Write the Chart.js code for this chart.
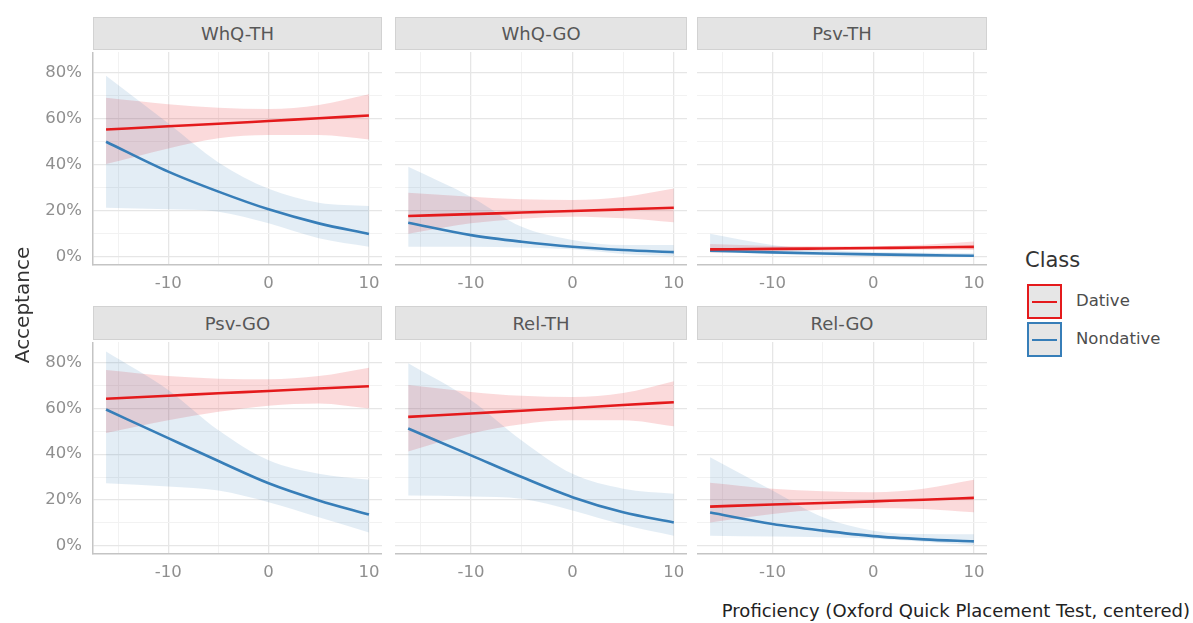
<!DOCTYPE html>
<html>
<head>
<meta charset="utf-8">
<script src="https://cdn.jsdelivr.net/npm/chart.js@4"></script>
<style>
  body { margin: 0; background: #fff; font-family: "DejaVu Sans", sans-serif; }
  #wrap { position: relative; width: 1193px; height: 623px; overflow: hidden; }
  canvas { position: absolute; }
  .strip { position: absolute; background: #e4e4e4; border: 1px solid #d2d2d2; box-sizing: border-box;
           color: #575757; font-size: 18px; display: flex; align-items: center; justify-content: center; }
  .txt { position: absolute; white-space: nowrap; }
  .key { position: absolute; width: 35px; height: 35px; box-sizing: border-box; background: #e6e6e6; }
  .key span { position: absolute; left: 3px; right: 3px; top: 15px; height: 2px; }
</style>
</head>
<body>
<div id="wrap"></div>
<script>
// x values where the fitted curves were read
var proficiency = [-16.2, -10, -5, 0, 5, 10];
var panels = ['WhQ-TH', 'WhQ-GO', 'Psv-TH', 'Psv-GO', 'Rel-TH', 'Rel-GO'];
var classes = ['Dative', 'Nondative'];

var dativeFit = [
  [0.553, 0.567, 0.578, 0.590, 0.602, 0.614],
  [0.177, 0.185, 0.192, 0.199, 0.206, 0.213],
  [0.032, 0.034, 0.036, 0.038, 0.040, 0.043],
  [0.642, 0.655, 0.666, 0.676, 0.687, 0.697],
  [0.563, 0.578, 0.590, 0.602, 0.615, 0.627],
  [0.171, 0.180, 0.187, 0.194, 0.201, 0.209]
];
var dativeLow = [
  [0.403, 0.471, 0.515, 0.529, 0.529, 0.510],
  [0.100, 0.145, 0.165, 0.174, 0.167, 0.150],
  [0.017, 0.024, 0.028, 0.030, 0.030, 0.029],
  [0.493, 0.548, 0.585, 0.612, 0.621, 0.599],
  [0.412, 0.490, 0.531, 0.548, 0.548, 0.522],
  [0.102, 0.139, 0.158, 0.165, 0.161, 0.146]
];
var dativeHigh = [
  [0.691, 0.663, 0.648, 0.642, 0.660, 0.706],
  [0.278, 0.261, 0.250, 0.247, 0.260, 0.297],
  [0.055, 0.047, 0.045, 0.046, 0.052, 0.066],
  [0.768, 0.741, 0.730, 0.727, 0.741, 0.778],
  [0.702, 0.672, 0.655, 0.650, 0.667, 0.719],
  [0.275, 0.249, 0.238, 0.234, 0.249, 0.288]
];
var nondativeFit = [
  [0.500, 0.370, 0.283, 0.206, 0.145, 0.099],
  [0.148, 0.094, 0.065, 0.043, 0.029, 0.020],
  [0.026, 0.019, 0.014, 0.010, 0.007, 0.004],
  [0.595, 0.470, 0.370, 0.273, 0.198, 0.136],
  [0.512, 0.395, 0.300, 0.212, 0.146, 0.102],
  [0.145, 0.095, 0.066, 0.042, 0.028, 0.019]
];
var nondativeLow = [
  [0.213, 0.206, 0.196, 0.145, 0.080, 0.043],
  [0.043, 0.043, 0.040, 0.032, 0.012, 0.003],
  [0.020, 0.012, 0.006, 0.003, 0.001, 0.001],
  [0.273, 0.259, 0.241, 0.190, 0.124, 0.058],
  [0.219, 0.215, 0.205, 0.154, 0.092, 0.044],
  [0.044, 0.040, 0.037, 0.032, 0.018, 0.003]
];
var nondativeHigh = [
  [0.787, 0.580, 0.410, 0.295, 0.235, 0.220],
  [0.391, 0.260, 0.130, 0.073, 0.051, 0.051],
  [0.100, 0.051, 0.030, 0.020, 0.017, 0.015],
  [0.848, 0.680, 0.504, 0.373, 0.314, 0.288],
  [0.797, 0.636, 0.460, 0.314, 0.249, 0.227],
  [0.387, 0.241, 0.124, 0.066, 0.051, 0.050]
];

var red = '#e41a1c', blue = '#377eb8';
var cols = [{left: 93, right: 382}, {left: 395, right: 687}, {left: 697, right: 987}];
var rows = [{strip: 17, top: 52, bottom: 265}, {strip: 306, top: 342, bottom: 554}];
var font = '"DejaVu Sans", sans-serif';
var wrap = document.getElementById('wrap');

function pts(vals) {
  return vals.map(function (v, i) { return {x: proficiency[i], y: v}; });
}

function line(label, vals, color) {
  return { label: label, data: pts(vals), borderColor: color, borderWidth: 2.6, pointRadius: 0,
           fill: false, cubicInterpolationMode: 'monotone', order: 0 };
}

function band(vals, fill, color, order) {
  return { data: pts(vals), borderWidth: 0, borderColor: 'transparent', pointRadius: 0,
           backgroundColor: color, fill: fill, cubicInterpolationMode: 'monotone', order: order };
}

function noPad(s) {
  s.paddingTop = 0; s.paddingBottom = 0; s.paddingLeft = 0; s.paddingRight = 0;
}

panels.forEach(function (name, p) {
  var c = cols[p % 3], r = rows[Math.floor(p / 3)];
  var first = p % 3 === 0;

  var strip = document.createElement('div');
  strip.className = 'strip';
  strip.style.left = c.left + 'px';
  strip.style.top = r.strip + 'px';
  strip.style.width = (c.right - c.left) + 'px';
  strip.style.height = (r.top - r.strip - 2) + 'px';
  strip.textContent = name;
  wrap.appendChild(strip);

  var yW = first ? c.left : 0;
  var cv = document.createElement('canvas');
  var left = c.left - yW, w = c.right - left, h = r.bottom - r.top + 35;
  cv.width = w; cv.height = h;
  cv.style.left = left + 'px';
  cv.style.top = r.top + 'px';
  wrap.appendChild(cv);

  new Chart(cv.getContext('2d'), {
    type: 'line',
    data: {
      datasets: [
        line(classes[0], dativeFit[p], red),
        line(classes[1], nondativeFit[p], blue),
        band(dativeLow[p], false, 'transparent', 2),
        band(dativeHigh[p], '-1', 'rgba(228,26,28,0.16)', 2),
        band(nondativeLow[p], false, 'transparent', 1),
        band(nondativeHigh[p], '-1', 'rgba(55,126,184,0.14)', 1)
      ]
    },
    options: {
      responsive: false,
      animation: false,
      devicePixelRatio: 1,
      layout: { padding: 0 },
      plugins: { legend: { display: false }, tooltip: { enabled: false } },
      scales: {
        x: {
          type: 'linear', min: -17.5, max: 11.3,
          afterFit: function (s) { s.height = 35; noPad(s); },
          border: { display: true, color: '#c4c4c4', width: 1.5 },
          grid: {
            drawTicks: false,
            color: function (ctx) { return ctx.tick && ctx.tick.value % 10 === 0 ? '#e6e6e6' : '#f2f2f2'; },
            lineWidth: function (ctx) { return ctx.tick && ctx.tick.value % 10 === 0 ? 1.3 : 1; }
          },
          ticks: {
            stepSize: 5, includeBounds: false, autoSkip: false, maxRotation: 0,
            padding: 9, color: '#8f8f8f', font: { family: font, size: 16.5 },
            callback: function (v) { return v % 10 === 0 ? String(v) : ''; }
          }
        },
        y: {
          min: -0.036, max: 0.89,
          afterFit: function (s) { s.width = yW; noPad(s); },
          border: { display: first, color: '#c4c4c4', width: 1.5 },
          grid: {
            drawTicks: false,
            color: function (ctx) { return ctx.tick && Math.round(ctx.tick.value * 100) % 20 === 0 ? '#e6e6e6' : '#f2f2f2'; },
            lineWidth: function (ctx) { return ctx.tick && Math.round(ctx.tick.value * 100) % 20 === 0 ? 1.3 : 1; }
          },
          ticks: {
            display: first, stepSize: 0.1, includeBounds: false, autoSkip: false,
            padding: 11, color: '#8f8f8f', font: { family: font, size: 16.5 },
            callback: function (v) {
              var n = Math.round(v * 100);
              return n % 20 === 0 ? n + '%' : '';
            }
          }
        }
      }
    }
  });
});

function text(str, css) {
  var d = document.createElement('div');
  d.className = 'txt';
  d.textContent = str;
  for (var k in css) d.style[k] = css[k];
  wrap.appendChild(d);
  return d;
}

text('Acceptance', { left: '-48px', top: '293px', width: '140px', textAlign: 'center', fontSize: '20px',
  color: '#333', transform: 'rotate(-90deg)', lineHeight: '24px' });
text('Proficiency (Oxford Quick Placement Test, centered)', { right: '3px', top: '600px', fontSize: '18px', color: '#222' });

// legend
text('Class', { left: '1025px', top: '248px', fontSize: '21px', color: '#333' });
[red, blue].forEach(function (col, i) {
  var k = document.createElement('div');
  k.className = 'key';
  k.style.left = '1027px';
  k.style.top = (284 + i * 38) + 'px';
  k.style.border = '2px solid ' + col;
  var s = document.createElement('span');
  s.style.background = col;
  k.appendChild(s);
  wrap.appendChild(k);
  text(classes[i], { left: '1076px', top: (291 + i * 38) + 'px', fontSize: '16.5px', color: '#4d4d4d' });
});
</script>
</body>
</html>
